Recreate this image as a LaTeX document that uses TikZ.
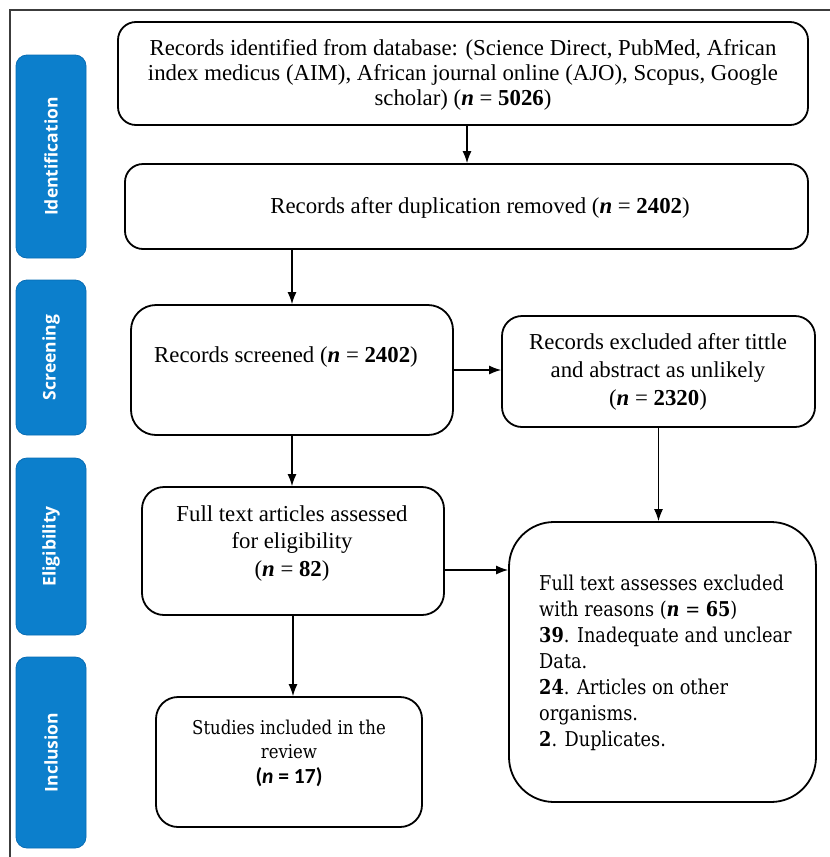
\documentclass[tikz,border=0pt]{standalone}
\usepackage{fontspec}
\usepackage{graphicx}
\setmainfont{Liberation Serif}
\newfontfamily\camfont[FakeStretch=0.87]{DejaVu Serif}
\newfontfamily\calfont{Carlito}
\newfontfamily\labfont{Open Sans}
\usetikzlibrary{arrows.meta}
\definecolor{labblue}{RGB}{12,127,204}
\definecolor{labedge}{RGB}{8,108,180}
\definecolor{framegray}{RGB}{60,60,60}
\newcommand\nnum[1]{(\textbf{\textit{n}} = \textbf{#1})}
\begin{document}
\begin{tikzpicture}[x=1pt,y=-1pt,
  box/.style={draw=black,line width=1.8pt,rounded corners=18pt,inner sep=0pt},
  lab/.style={fill=labblue,draw=labedge,line width=0.8pt,rounded corners=11pt,inner sep=0pt,text=white,font=\labfont\bfseries\fontsize{17.5}{19}\selectfont},
  txt/.style={align=center,font=\fontsize{22.8}{25}\selectfont,inner sep=0pt},
  camtxt/.style={align=left,font=\camfont\fontsize{20.4}{26}\selectfont,inner sep=0pt},
  arr/.style={line width=1.2pt,-{Latex[length=12pt,width=9pt]}}]
\useasboundingbox (0,0) rectangle (830,857);
\fill[white] (0,0) rectangle (830,857);
% frame
\draw[framegray,line width=1.2pt] (830,10) -- (10,10) -- (10,857);
% side labels
\node[lab,minimum width=70pt,minimum height=203pt] (l1) at (51,156.5) {\rotatebox{90}{Identification}};
\node[lab,minimum width=70pt,minimum height=155pt] (l2) at (51,357.5) {\rotatebox{90}{Screening}};
\node[lab,minimum width=70pt,minimum height=177pt] (l3) at (51,546.5) {\rotatebox{90}{Eligibility}};
\node[lab,minimum width=70pt,minimum height=191pt] (l4) at (51,752.5) {\rotatebox{90}{Inclusion}};
% boxes
\node[box,minimum width=690pt,minimum height=103pt] (b1) at (463,73.5) {};
\node[box,minimum width=683pt,minimum height=85pt] (b2) at (466.5,206.5) {};
\node[box,minimum width=322pt,minimum height=130pt,rounded corners=25pt] (b3) at (292,370) {};
\node[box,minimum width=313pt,minimum height=111pt,rounded corners=20pt] (b4) at (658.5,371.5) {};
\node[box,minimum width=302pt,minimum height=128pt,rounded corners=22pt] (b5) at (293,551) {};
\node[box,minimum width=307pt,minimum height=280pt,rounded corners=45pt] (b6) at (662.5,662) {};
\node[box,minimum width=266pt,minimum height=130pt,rounded corners=22pt] (b7) at (289,762) {};
% texts
\node[txt] (t1) at (463,75) {Records identified from database: (Science Direct, PubMed, African\\index medicus (AIM), African journal online (AJO), Scopus, Google\\scholar) \nnum{5026}};
\node[txt] (t2) at (480,208) {Records after duplication removed \nnum{2402}};
\node[txt] (t3) at (286,357) {Records screened \nnum{2402}};
\node[txt,font=\fontsize{22.8}{28}\selectfont] (t4) at (658,372) {Records excluded after tittle\\and abstract as unlikely\\\nnum{2320}};
\node[txt,font=\fontsize{22.8}{27.5}\selectfont] (t5) at (292,543.5) {Full text articles assessed\\for eligibility\\\nnum{82}};
\node[camtxt,anchor=west] (t6) at (539,663) {Full text assesses excluded\\with reasons \nnum{65}\\\textbf{39}. Inadequate and unclear\\Data.\\\textbf{24}. Articles on other\\organisms.\\\textbf{2}. Duplicates.};
\node[txt,font=\camfont\fontsize{19}{24.5}\selectfont] (t7) at (289,753) {Studies included in the\\review\\{\calfont\bfseries\fontsize{21.5}{24.5}\selectfont(\textit{n} = 17)}};
% arrows
\draw[arr] ([xshift=4pt]b1.south) -- ([xshift=4pt]b1.south |- b2.north);
\draw[arr] (b3.north |- b2.south) -- (b3.north);
\draw[arr] (b3.east) -- (b3.east -| b4.west);
\draw[arr] (b4.south) -- (b4.south |- b6.north);
\draw[arr] (b3.south) -- (b3.south |- b5.north);
\draw[arr] ([yshift=-19pt]b5.east) -- ([yshift=-19pt]b5.east -| b6.west);
\draw[arr] (b5.south) -- (b5.south |- b7.north);
\end{tikzpicture}
\end{document}
